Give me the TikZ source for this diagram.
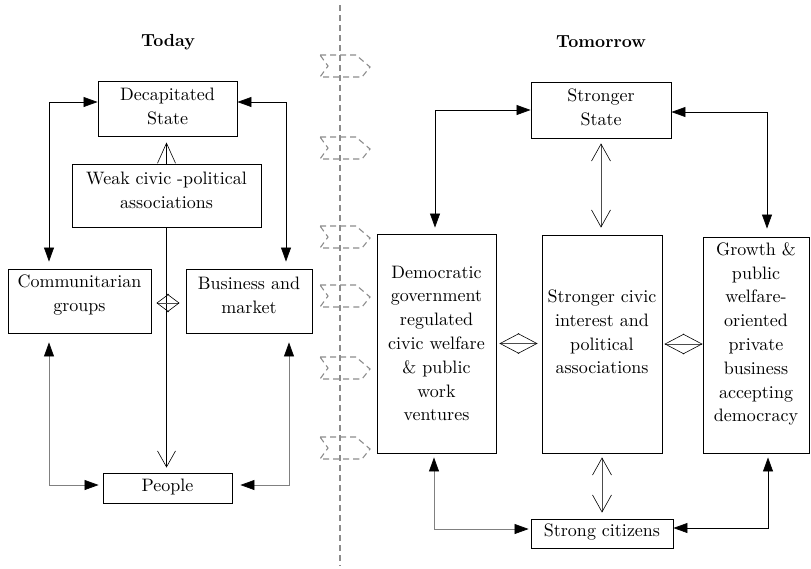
\documentclass[tikz,border=0pt]{standalone}
\usepackage{fontspec}
\setmainfont{lmroman10-regular.otf}[BoldFont=lmroman10-bold.otf]
\usetikzlibrary{arrows.meta}
\begin{document}
\begin{tikzpicture}[x=1pt,y=-1pt,
  box/.style={draw, line width=0.9pt, inner sep=0pt},
  txt/.style={inner sep=0pt, align=center, font=\fontsize{18}{23.8}\selectfont},
  ttl/.style={inner sep=0pt, font=\fontsize{17.5}{20}\selectfont\bfseries},
  divider/.style={draw=black!45, line width=1.1pt, dash pattern=on 6pt off 4pt},
  link/.style={line width=0.7pt, {Triangle[length=14pt,width=10pt]}-{Triangle[length=14pt,width=10pt]}},
  glink/.style={line width=0.7pt, draw=black!50, {Triangle[length=14pt,width=10pt,color=black]}-{Triangle[length=14pt,width=10pt,color=black]}},
  openarr/.style 2 args={line width=0.6pt, draw=black!70, {Straight Barb[length=#1,width=#2,color=black]}-{Straight Barb[length=#1,width=#2,color=black]}},
  onearr/.style 2 args={line width=0.6pt, -{Straight Barb[length=#1,width=#2]}}
]
\useasboundingbox (0,0) rectangle (811,568);

% divider with chevrons
\draw[divider] (340,5) -- (340,566);
\foreach \cy in {66,148,237,296,368,448}
  \draw[divider] (320,\cy-11) -- (356,\cy-11) -- (370,\cy+1) -- (362,\cy+11) -- (320,\cy+11) -- (328,\cy) -- cycle;

% titles
\node[ttl] (today) at (168,42) {Today};
\node[ttl] (tomorrow) at (601,42) {Tomorrow};

% ---------- Today ----------
\node[box, minimum width=139pt, minimum height=55pt] (decap) at (167.5,108.5) {};
\node[txt] (decapT) at (167.5,106.5) {Decapitated\\State};
\node[box, minimum width=189pt, minimum height=63pt] (weak) at (166.5,195.5) {};
\node[txt] (weakT) at (166.5,190) {Weak civic -political\\associations};
\node[box, minimum width=143pt, minimum height=64pt] (comm) at (79.5,301) {};
\node[txt] (commT) at (79.5,295) {Communitarian\\groups};
\node[box, minimum width=126pt, minimum height=64pt] (bus) at (249,301) {};
\node[txt] (busT) at (249,295) {Business and\\market};
\node[box, minimum width=129pt, minimum height=30pt] (people) at (167.5,488) {};
\node[txt] (peopleT) at (167.5,487) {People};

\draw[link, shorten >=7pt] ([yshift=6.5pt]decap.west) -| ([xshift=-30.5pt]comm.north);
\draw[link, shorten >=7pt] ([yshift=6.5pt]decap.east) -| ([xshift=37pt]bus.north);
\draw[onearr={20pt}{18pt}, shorten >=6pt] (weak.north) -- (weak.north |- decap.south);
\draw[onearr={16pt}{18pt}, shorten >=5pt] (weak.south) -- (weak.south |- people.north);
\draw[openarr={12pt}{18pt}, shorten <=5pt, shorten >=6pt] ([yshift=-2pt]comm.east) -- ([yshift=-2pt]bus.west);
\draw[glink, shorten <=9pt, shorten >=4pt] ([xshift=-30.5pt]comm.south) |- ([yshift=3pt]people.west);
\draw[glink, shorten <=9pt, shorten >=8pt] ([xshift=40pt]bus.south) |- ([yshift=3pt]people.east);

% ---------- Tomorrow ----------
\node[box, minimum width=140pt, minimum height=56pt] (sstate) at (601,110) {};
\node[txt] (sstateT) at (601,107) {Stronger\\State};
\node[box, minimum width=119pt, minimum height=219pt] (dem) at (436.5,343.5) {};
\node[txt] (demT) at (436.5,343.5) {Democratic\\government\\regulated\\civic welfare\\\& public\\work\\ventures};
\node[box, minimum width=120pt, minimum height=218pt] (civ) at (602,344) {};
\node[txt] (civT) at (602,332) {Stronger civic\\interest and\\political\\associations};
\node[box, minimum width=106pt, minimum height=216pt] (grow) at (756,345) {};
\node[txt] (growT) at (756,334) {Growth \&\\public\\welfare-\\oriented\\private\\business\\accepting\\democracy};
\node[box, minimum width=142pt, minimum height=29pt] (cit) at (602,533.5) {};
\node[txt] (citT) at (602,532) {Strong citizens};

\draw[link, shorten >=6pt] (sstate.west) -| ([xshift=-1.5pt]dem.north);
\draw[link, shorten >=8pt] ([yshift=-2pt]sstate.east) -| ([xshift=11pt]grow.north);
\draw[openarr={17pt}{19pt}, shorten <=5pt, shorten >=7pt] (sstate.south) -- (sstate.south |- civ.north);
\draw[openarr={17pt}{19pt}, shorten <=4pt, shorten >=6pt] (civ.south) -- (civ.south |- cit.north);
\draw[openarr={19pt}{20pt}, shorten <=3pt, shorten >=4pt] (dem.east) -- (dem.east -| civ.west);
\draw[openarr={19pt}{20pt}, shorten <=2pt] (civ.east) -- (civ.east -| grow.west);
\draw[glink, shorten <=4pt, shorten >=2pt] ([xshift=-2.5pt]dem.south) |- ([yshift=4.5pt]cit.west);
\draw[link, shorten <=4pt] ([xshift=12pt]grow.south) |- ([yshift=5.5pt]cit.east);
\end{tikzpicture}
\end{document}
